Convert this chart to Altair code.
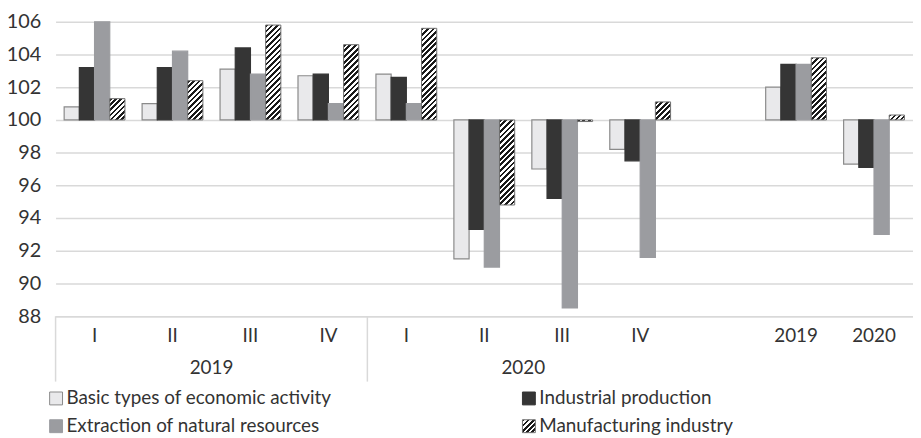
import math
import altair as alt
import pandas as pd

# ---------------- data ----------------
keys = ["I|2019", "II|2019", "III|2019", "IV|2019",
        "I|2020", "II|2020", "III|2020", "IV|2020",
        "|", "2019|", "2020|"]
periods = [k for k in keys if k != "|"]
series = ["Basic types of economic activity", "Industrial production",
          "Extraction of natural resources", "Manufacturing industry"]

basic = [100.8, 101.0, 103.1, 102.7, 102.8, 91.5, 97.0, 98.2, 102.0, 97.3]
industrial = [103.2, 103.2, 104.4, 102.8, 102.6, 93.3, 95.2, 97.5, 103.4, 97.1]
extraction = [106.0, 104.2, 102.8, 101.0, 101.0, 91.0, 88.5, 91.6, 103.4, 93.0]
manufacturing = [101.3, 102.4, 105.8, 104.6, 105.6, 94.8, 99.9, 101.1, 103.8, 100.3]

group_keys = ["II|2019", "II|2020"]
group_labels = ["2019", "2020"]
separator_keys = ["I|2019", "I|2020"]
y_ticks = list(range(88, 107, 2))

values = [basic, industrial, extraction, manufacturing]
rows = []
for s, vals in zip(series, values):
    for k, v in zip(periods, vals):
        rows.append({"key": k, "series": s, "value": v})
df = pd.DataFrame(rows)

# ---------------- layout / style ----------------
W, H = 865, 297
STEP = W / len(keys)
P_INNER = 0.22
BAR_W = STEP * (1 - P_INNER) / 4
PX_PER_UNIT = H / 18.0
FONT = "Lato"
TEXT = "#333333"
GRID = "#d9d9d9"

fills = {
    series[0]: "#e9e9eb",
    series[1]: "#353535",
    series[2]: "#9b9ca0",
}
strokes = {series[0]: "#8a8a8a", series[1]: "#353535", series[2]: "#9b9ca0"}


def hatch(w, h, period=4.0, dark="#1a1a1a", light="#ffffff"):
    w = max(w, 0.5)
    h = max(h, 0.5)
    d = period * math.sqrt(2)
    n = max(1, int(round((w + h) / d)))
    stops = []
    for i in range(n):
        a, b, c = i / n, (i + 0.5) / n, (i + 1) / n
        stops += [{"offset": a, "color": dark}, {"offset": b, "color": dark},
                  {"offset": b, "color": light}, {"offset": c, "color": light}]
    x2 = (w + h) * w / (w * w + h * h)
    y2 = (w + h) * h / (w * w + h * h)
    return {"gradient": "linear", "x1": 0, "y1": 0, "x2": x2, "y2": y2, "stops": stops}


x_enc = alt.X("key:N",
              scale=alt.Scale(domain=keys, paddingInner=P_INNER, paddingOuter=P_INNER / 2),
              axis=alt.Axis(title=None, labelExpr="split(datum.value, '|')[0]", labelAngle=0,
                            ticks=False, domain=True, domainColor=GRID, domainWidth=1.5,
                            grid=False, labelPadding=11, labelFontSize=19))
xo_enc = alt.XOffset("series:N", scale=alt.Scale(domain=series, paddingInner=0, paddingOuter=0))
y_enc = alt.Y("value:Q", scale=alt.Scale(domain=[88, 106], nice=False, zero=False),
              axis=alt.Axis(title=None, values=y_ticks, ticks=False, domain=False,
                            grid=True, gridColor=GRID, gridWidth=1.5,
                            labelPadding=15, labelFontSize=20))

layers = []
for s in series[:3]:
    layers.append(
        alt.Chart(df).transform_filter(alt.datum.series == s)
        .mark_bar(fill=fills[s], stroke=strokes[s], strokeWidth=1.2)
        .encode(x=x_enc, xOffset=xo_enc, y=y_enc, y2=alt.datum(100))
    )

for k, v in zip(periods, manufacturing):
    h = abs(v - 100) * PX_PER_UNIT
    layers.append(
        alt.Chart(df).transform_filter((alt.datum.series == series[3]) & (alt.datum.key == k))
        .mark_bar(fill=hatch(BAR_W, h), stroke="#6f6f6f", strokeWidth=1)
        .encode(x=x_enc, xOffset=xo_enc, y=y_enc, y2=alt.datum(100))
    )

# year group labels
gdf = pd.DataFrame({"key": group_keys, "label": group_labels})
layers.append(
    alt.Chart(gdf).mark_text(dx=STEP / 2, fontSize=19, color=TEXT, font=FONT, baseline="middle")
    .encode(x=x_enc, y=alt.value(H + 52), text="label:N")
)

# separators
sdf = pd.DataFrame({"key": separator_keys})
layers.append(
    alt.Chart(sdf).mark_rule(xOffset=-STEP / 2, color=GRID, strokeWidth=1.5)
    .encode(x=x_enc, y=alt.value(H), y2=alt.value(H + 66))
)

# legend (manual, two columns)
leg_x = [-6, 471]
leg_y = [380, 408]
SW = 13
for i, s in enumerate(series):
    cx = leg_x[i % 2]
    cy = leg_y[i // 2]
    if s == series[3]:
        fill, stroke = hatch(SW, SW), "#6f6f6f"
    else:
        fill, stroke = fills[s], strokes[s]
    one = pd.DataFrame({"label": [s]})
    layers.append(
        alt.Chart(one).mark_rect(fill=fill, stroke=stroke, strokeWidth=1)
        .encode(x=alt.value(cx), x2=alt.value(cx + SW), y=alt.value(cy - SW / 2), y2=alt.value(cy + SW / 2))
    )
    layers.append(
        alt.Chart(one).mark_text(align="left", baseline="middle", fontSize=19, color=TEXT, font=FONT)
        .encode(x=alt.value(cx + SW + 4), y=alt.value(cy), text="label:N")
    )

chart = (
    alt.layer(*layers)
    .properties(width=W, height=H, autosize=alt.AutoSizeParams(type="none"),
                padding={"left": 48, "top": 12, "right": 0, "bottom": 121})
    .configure_view(stroke=None)
    .configure_axis(labelFont=FONT, labelColor=TEXT)
)

chart.save("out.html", embed_options={"renderer": "svg", "actions": False})
